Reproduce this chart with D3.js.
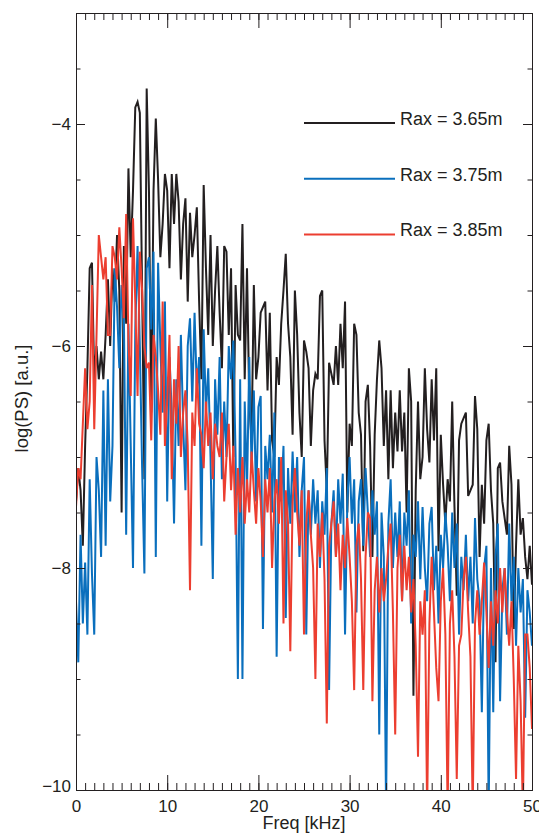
<!DOCTYPE html>
<html>
<head>
<meta charset="utf-8">
<script src="https://cdn.jsdelivr.net/npm/d3@7"></script>
<style>
  body { margin: 0; background: #fff; }
  svg { display: block; font-family: "Liberation Sans", Arial, Helvetica, sans-serif; }
</style>
</head>
<body>
<svg id="chart" width="539" height="833"></svg>
<script>
// spectra are sampled every 0.25 kHz from 0 to 50 kHz
var freqStep = 0.25;

// log(PS) for Rax = 3.65m (one row = 5 kHz)
var ps365 = [
  -7.4, -7.1, -7.3, -7.8,  -6.9, -6.2, -5.3, -5.25,  -6.3, -6.0, -6.3, -6.05,  -6.3, -5.9, -5.4, -6.0,  -5.3, -5.6, -5.0, -5.5,
  -7.5, -5.1, -5.8, -4.4,  -5.2, -4.6, -3.85, -3.8,  -3.9, -5.5, -7.2, -3.68,  -4.6, -6.6, -4.6, -3.95,  -4.5, -5.2, -4.9, -4.45,
  -4.6, -5.3, -4.45, -4.9,  -4.45, -4.7, -5.4, -4.9,  -4.67, -5.6, -4.8, -5.2,  -5.0, -4.75, -5.6, -6.3,  -4.55, -5.3, -5.9, -5.0,
  -6.0, -5.5, -5.1, -5.7,  -6.2, -5.1, -5.15, -5.9,  -5.3, -7.0, -5.45, -5.9,  -5.95, -4.9, -6.3, -5.3,  -6.5, -6.85, -5.45, -6.3,
  -6.1, -5.7, -5.65, -5.6,  -6.4, -5.7, -6.85, -7.0,  -6.1, -6.35, -5.8, -5.5,  -5.17, -5.8, -6.1, -6.8,  -5.5, -5.9, -6.6, -7.0,
  -5.95, -6.05, -6.2, -6.9,  -6.4, -6.25, -6.3, -5.55,  -5.5, -6.85, -7.3, -6.15,  -6.25, -6.35, -6.0, -6.35,  -5.8, -6.2, -5.6, -7.5,
  -6.7, -6.9, -5.8, -5.9,  -6.6, -6.8, -7.85, -6.5,  -6.35, -6.9, -7.9, -6.8,  -6.3, -5.95, -6.2, -6.9,  -6.4, -7.2, -6.4, -7.1,
  -6.6, -6.95, -6.4, -6.95,  -6.6, -7.5, -6.2, -6.5,  -9.15, -7.3, -6.5, -7.2,  -7.0, -6.2, -6.75, -7.05,  -6.3, -6.85, -6.2, -7.85,
  -6.8, -7.25, -7.6, -7.2,  -7.4, -6.5, -7.45, -8.25,  -6.85, -6.7, -6.65, -6.6,  -7.35, -7.3, -7.25, -6.45,  -6.75, -7.9, -7.25, -7.6,
  -6.85, -6.7, -7.3, -7.6,  -8.85, -7.1, -7.05, -7.4,  -7.55, -7.7, -6.9, -7.25,  -8.55, -7.8, -7.2, -7.7,  -7.55, -7.9, -8.1, -7.8,
  -8.15
];

// log(PS) for Rax = 3.75m
var ps375 = [
  -8.3, -8.85, -7.7, -8.5,  -7.95, -8.6, -7.2, -8.05,  -8.6, -7.0, -7.3, -7.9,  -6.4, -7.8, -6.3, -7.4,  -6.9, -5.3, -5.65, -6.2,
  -5.45, -5.75, -7.7, -5.8,  -6.9, -8.0, -5.85, -5.1,  -6.0, -7.1, -8.05, -5.3,  -5.2, -5.85, -5.15, -7.9,  -5.25, -6.0, -6.6, -5.6,
  -7.4, -6.1, -6.6, -7.6,  -6.3, -6.9, -5.9, -6.7,  -7.3, -6.0, -5.75, -6.5,  -5.7, -6.4, -6.1, -7.8,  -5.85, -6.6, -6.2, -7.0,
  -8.1, -6.3, -6.8, -6.1,  -7.2, -6.5, -7.0, -6.0,  -6.3, -5.95, -7.0, -9.0,  -6.3, -9.0, -6.5, -7.3,  -6.1, -7.1, -6.4, -7.4,
  -6.55, -6.45, -8.55, -6.9,  -7.2, -6.8, -7.5, -6.6,  -8.8, -7.0, -7.4, -6.9,  -8.45, -7.1, -7.6, -6.95,  -7.5, -7.0, -7.9, -7.3,
  -7.0, -8.6, -7.3, -7.7,  -7.2, -7.6, -7.3, -8.0,  -7.4, -7.7, -7.1, -9.1,  -7.6, -7.3, -7.9, -7.2,  -7.6, -7.15, -8.6, -7.4,
  -7.0, -7.6, -7.2, -8.4,  -7.4, -7.2, -7.8, -7.1,  -7.5, -7.9, -7.3, -7.7,  -7.4, -9.5, -7.5, -7.9,  -10.2, -7.6, -7.2, -8.0,
  -7.5, -7.9, -7.4, -8.3,  -7.5, -7.8, -7.3, -8.5,  -7.7, -7.9, -7.4, -8.1,  -7.45, -8.0, -8.3, -7.6,  -7.45, -8.2, -7.8, -8.5,
  -7.7, -8.0, -7.5, -7.8,  -8.3, -7.5, -8.0, -7.6,  -8.6, -7.9, -8.2, -7.7,  -8.3, -7.9, -8.5, -7.55,  -8.1, -8.3, -9.3, -8.0,
  -7.8, -10.2, -8.0, -9.3,  -7.9, -7.6, -9.2, -8.2,  -8.0, -8.6, -7.6, -8.3,  -7.9, -8.7, -8.0, -8.4,  -8.1, -9.35, -8.2, -8.4,
  -8.7
];

// log(PS) for Rax = 3.85m
var ps385 = [
  -7.45, -7.1, -7.2, -6.7,  -6.2, -6.75, -6.5, -5.45,  -6.75, -5.9, -5.0, -5.2,  -5.4, -5.2, -5.9, -5.9,  -5.1, -5.2, -5.4, -4.93,
  -5.3, -5.75, -4.81, -5.95,  -6.45, -4.85, -5.6, -6.45,  -5.15, -5.5, -6.0, -6.2,  -6.15, -6.85, -5.9, -6.1,  -6.4, -6.8, -5.6, -6.9,
  -6.5, -5.9, -7.2, -6.3,  -6.7, -6.0, -7.0, -6.6,  -6.4, -6.9, -8.2, -6.6,  -6.9, -6.2, -6.7, -6.8,  -7.1, -6.5, -6.9, -6.6,
  -7.2, -6.7, -6.9, -7.0,  -6.6, -7.4, -7.0, -6.7,  -7.3, -6.9, -7.7, -7.1,  -7.5, -7.0, -7.6, -7.2,  -7.5, -6.95, -7.3, -7.6,
  -7.1, -7.4, -7.9, -7.2,  -7.5, -7.1, -8.0, -7.4,  -7.2, -7.6, -7.0, -8.5,  -7.3, -7.6, -8.75, -7.4,  -7.1, -7.5, -7.8, -7.3,
  -8.6, -7.6, -7.3, -7.7,  -8.0, -9.0, -7.6, -7.9,  -7.5, -8.1, -9.4, -7.8,  -7.6, -7.4, -7.9, -7.6,  -8.2, -7.7, -8.0, -7.55,
  -7.9, -8.3, -9.1, -7.8,  -7.6, -8.1, -9.1, -7.9,  -7.5, -7.55, -9.2, -8.2,  -7.9, -8.4, -8.0, -8.3,  -8.1, -7.8, -7.6, -8.4,
  -9.5, -8.0, -7.7, -8.3,  -7.8, -8.2, -7.9, -8.4,  -8.1, -8.7, -9.7, -8.3,  -8.6, -8.2, -10.2, -8.5,  -7.9, -8.4, -8.9, -9.2,
  -8.3, -8.0, -8.6, -10.2,  -8.5, -8.2, -8.8, -9.9,  -8.7, -8.6, -8.1, -7.9,  -8.4, -8.8, -10.2, -8.5,  -8.2, -8.6, -8.3, -7.95,
  -8.4, -8.9, -8.3, -8.7,  -8.2, -8.5, -8.0, -8.4,  -8.0, -8.4, -8.7, -8.3,  -9.0, -9.9, -8.7, -9.2,  -10.2, -8.6, -8.6, -8.9,
  -9.45
];

var seriesNames = ["Rax = 3.65m", "Rax = 3.75m", "Rax = 3.85m"];
var xMajorTicks = [0, 10, 20, 30, 40, 50];
var yMajorTicks = [-10, -8, -6, -4];

// ---- layout ----
var margin = {left: 76, top: 13, right: 7, bottom: 43};
var W = 539, H = 833;
var w = W - margin.left - margin.right;
var h = H - margin.top - margin.bottom;
var ink = '#231f20';
var colors = ['#231f20', '#0a6fbd', '#ec3e30'];

var svg = d3.select('#chart');
var plot = svg.append('g')
    .attr('transform', 'translate(' + margin.left + ',' + margin.top + ')');

var xScale = d3.scaleLinear().domain([0, 50]).range([0, w]);
var yScale = d3.scaleLinear().domain([-10, -3]).range([h, 0]);

// clip so the deepest dips stop at the bottom axis
plot.append('clipPath').attr('id', 'plotClip')
    .append('rect').attr('width', w).attr('height', h);

// ---- data lines (black, blue, red on top) ----
var line = d3.line()
    .x(function (d, i) { return xScale(i * freqStep); })
    .y(function (d) { return yScale(d); });

plot.append('g')
    .attr('clip-path', 'url(#plotClip)')
    .selectAll('path')
    .data([ps365, ps375, ps385])
    .enter()
    .append('path')
    .attr('d', line)
    .attr('fill', 'none')
    .attr('stroke', function (d, i) { return colors[i]; })
    .attr('stroke-width', 2);

// ---- axes, ticks pointing inward on all four sides ----
function styleAxis(g) {
    g.select('.domain').remove();
    g.attr('font-family', null)
     .attr('font-size', 17)
     .attr('color', ink);
}

var fmt = function (d) { return d3.format('d')(d).replace('-', '\u2212'); };

// bottom
plot.append('g')
    .attr('transform', 'translate(0,' + h + ')')
    .call(d3.axisBottom(xScale).tickValues(d3.range(0, 51, 1)).tickSize(-7).tickFormat(''))
    .call(styleAxis);
plot.append('g')
    .attr('transform', 'translate(0,' + h + ')')
    .call(d3.axisBottom(xScale).tickValues(xMajorTicks).tickSize(-15).tickPadding(10).tickFormat(fmt))
    .call(styleAxis);

// top
plot.append('g')
    .call(d3.axisTop(xScale).tickValues(d3.range(0, 51, 1)).tickSize(-7).tickFormat(''))
    .call(styleAxis);
plot.append('g')
    .call(d3.axisTop(xScale).tickValues(xMajorTicks).tickSize(-15).tickFormat(''))
    .call(styleAxis);

// left
plot.append('g')
    .call(d3.axisLeft(yScale).tickValues(d3.range(-10, -2.9, 0.5)).tickSize(-4.5).tickFormat(''))
    .call(styleAxis);
var leftAxis = plot.append('g')
    .call(d3.axisLeft(yScale).tickValues(yMajorTicks).tickSize(-9).tickPadding(5).tickFormat(fmt))
    .call(styleAxis);
// bottom label sits a little higher, like the original
leftAxis.selectAll('text')
    .filter(function (d) { return d === -10; })
    .attr('y', -4);

// right
plot.append('g')
    .attr('transform', 'translate(' + w + ',0)')
    .call(d3.axisRight(yScale).tickValues(d3.range(-10, -2.9, 0.5)).tickSize(-4.5).tickFormat(''))
    .call(styleAxis);
plot.append('g')
    .attr('transform', 'translate(' + w + ',0)')
    .call(d3.axisRight(yScale).tickValues(yMajorTicks).tickSize(-9).tickFormat(''))
    .call(styleAxis);

// frame
plot.append('rect')
    .attr('x', 0.5).attr('y', 0.5)
    .attr('width', w).attr('height', h)
    .attr('fill', 'none')
    .attr('stroke', ink)
    .attr('stroke-width', 1);

// ---- axis titles ----
svg.append('text')
    .attr('x', margin.left + w / 2)
    .attr('y', 829)
    .attr('text-anchor', 'middle')
    .attr('font-size', 18)
    .attr('fill', ink)
    .text('Freq [kHz]');

svg.append('text')
    .attr('transform', 'translate(28,' + (margin.top + h / 2 - 3) + ') rotate(-90)')
    .attr('text-anchor', 'middle')
    .attr('font-size', 18.5)
    .attr('fill', ink)
    .text('log(PS) [a.u.]');

// ---- legend ----
var legend = svg.append('g')
    .selectAll('g')
    .data(seriesNames)
    .enter()
    .append('g')
    .attr('transform', function (d, i) { return 'translate(304,' + (123 + i * 55.7) + ')'; });

legend.append('line')
    .attr('x1', 0).attr('x2', 91)
    .attr('stroke', function (d, i) { return colors[i]; })
    .attr('stroke-width', 2);

legend.append('text')
    .attr('x', 96)
    .attr('y', 2)
    .attr('font-size', 18)
    .attr('fill', ink)
    .text(function (d) { return d; });
</script>
</body>
</html>
